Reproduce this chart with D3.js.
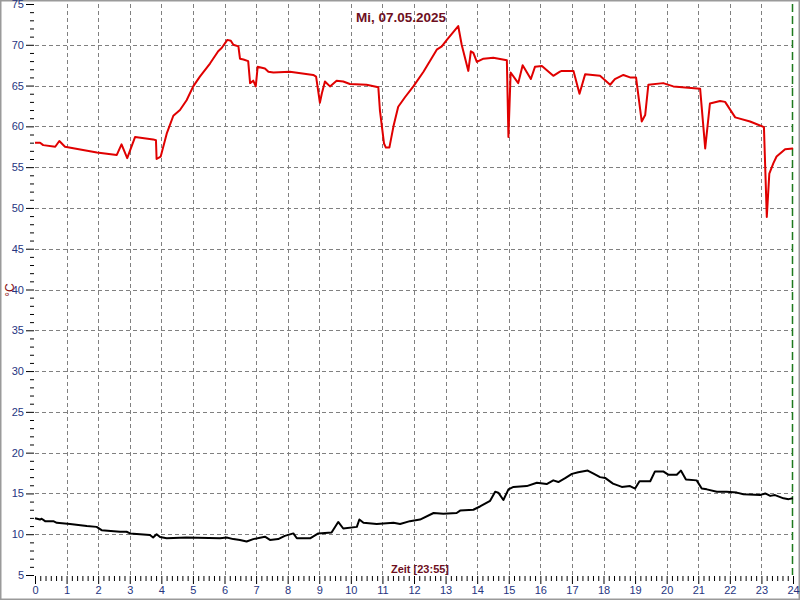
<!DOCTYPE html>
<html>
<head>
<meta charset="utf-8">
<script src="https://cdn.jsdelivr.net/npm/d3@7"></script>
<style>
  body { margin: 0; background: #fff; }
  svg { display: block; font-family: Arial, "Liberation Sans", sans-serif; }
  .ticks text { fill: #26357f; font-size: 11px; }
  .ticks line { stroke: #000; }
</style>
</head>
<body>
<div id="main"></div>
<script>
// **** data ****
var hoursRed = [0, 0.16, 0.26, 0.64, 0.77, 0.95, 1.96, 2.59, 2.74, 2.92, 3.17, 3.74, 3.83, 3.85, 3.98, 4.17, 4.38, 4.59, 4.80, 5.01, 5.22, 5.54, 5.80, 5.91, 6.09, 6.20, 6.28, 6.44, 6.49, 6.60, 6.75, 6.81, 6.91, 6.99, 7.05, 7.28, 7.39, 7.55, 8.07, 8.81, 8.90, 9.02, 9.08, 9.18, 9.34, 9.55, 9.76, 9.97, 10.50, 10.87, 10.92, 11.05, 11.11, 11.22, 11.35, 11.50, 11.72, 11.98, 12.30, 12.72, 12.88, 13.04, 13.40, 13.51, 13.72, 13.80, 13.88, 13.99, 14.20, 14.51, 14.94, 14.99, 15.06, 15.30, 15.44, 15.70, 15.83, 16.05, 16.41, 16.62, 16.68, 17.05, 17.24, 17.42, 17.89, 18.21, 18.36, 18.63, 18.84, 19.03, 19.21, 19.32, 19.42, 19.89, 20.21, 21.06, 21.22, 21.37, 21.69, 21.85, 22.17, 22.64, 23.08, 23.17, 23.25, 23.38, 23.48, 23.75, 24.0];
var tempRed = [58.0, 58.0, 57.7, 57.5, 58.2, 57.5, 56.8, 56.5, 57.8, 56.1, 58.7, 58.4, 58.3, 56.0, 56.3, 59.1, 61.3, 62.0, 63.2, 64.9, 66.1, 67.7, 69.2, 69.6, 70.6, 70.5, 70.0, 69.8, 68.3, 68.2, 68.0, 65.3, 65.6, 64.9, 67.3, 67.1, 66.7, 66.6, 66.7, 66.3, 66.1, 62.9, 64.0, 65.5, 64.9, 65.6, 65.5, 65.2, 65.1, 64.8, 62.0, 57.9, 57.4, 57.4, 60.0, 62.4, 63.6, 64.9, 66.7, 69.4, 69.8, 70.6, 72.3, 70.0, 66.8, 69.2, 69.0, 67.9, 68.3, 68.4, 68.1, 58.7, 66.6, 65.3, 67.5, 65.8, 67.3, 67.4, 66.2, 66.7, 66.8, 66.8, 64.0, 66.4, 66.2, 65.1, 65.8, 66.3, 66.0, 66.0, 60.6, 61.4, 65.1, 65.3, 64.9, 64.6, 57.3, 62.8, 63.1, 63.0, 61.1, 60.6, 59.9, 48.9, 54.2, 55.5, 56.3, 57.2, 57.3];

var hoursBlack = [0, 0.16, 0.21, 0.32, 0.58, 0.69, 1.11, 1.64, 1.95, 2.11, 2.69, 2.90, 3.01, 3.64, 3.74, 3.85, 3.96, 4.17, 4.80, 5.86, 6.07, 6.28, 6.49, 6.70, 6.91, 7.28, 7.44, 7.70, 7.91, 8.18, 8.29, 8.71, 8.97, 9.39, 9.60, 9.76, 10.19, 10.27, 10.40, 10.82, 11.35, 11.56, 11.87, 12.19, 12.62, 12.93, 13.35, 13.46, 13.88, 14.09, 14.41, 14.57, 14.67, 14.83, 14.99, 15.15, 15.57, 15.89, 16.20, 16.41, 16.57, 16.80, 17.00, 17.20, 17.50, 17.70, 17.89, 18.05, 18.30, 18.58, 18.84, 19.00, 19.14, 19.48, 19.63, 19.89, 20.05, 20.32, 20.45, 20.61, 20.95, 21.11, 21.27, 21.59, 21.90, 22.22, 22.43, 22.96, 23.12, 23.28, 23.43, 23.70, 23.86, 24.0];
var tempBlack = [11.95, 11.8, 11.9, 11.6, 11.6, 11.4, 11.25, 11.0, 10.9, 10.5, 10.3, 10.3, 10.1, 9.9, 9.6, 10.0, 9.65, 9.5, 9.6, 9.5, 9.6, 9.4, 9.3, 9.1, 9.4, 9.7, 9.3, 9.4, 9.8, 10.1, 9.5, 9.5, 10.1, 10.2, 11.5, 10.7, 10.9, 11.8, 11.4, 11.25, 11.4, 11.25, 11.6, 11.8, 12.6, 12.5, 12.6, 12.9, 13.0, 13.4, 14.1, 15.2, 15.1, 14.2, 15.5, 15.8, 15.9, 16.3, 16.15, 16.6, 16.4, 16.9, 17.4, 17.6, 17.8, 17.4, 17.0, 16.9, 16.2, 15.8, 15.9, 15.6, 16.5, 16.5, 17.7, 17.7, 17.3, 17.3, 17.8, 16.7, 16.6, 15.6, 15.5, 15.2, 15.2, 15.1, 14.9, 14.8, 15.0, 14.7, 14.8, 14.4, 14.3, 14.4];

var hourTicks = d3.range(0, 25);
var tempTicks = d3.range(5, 80, 5);
var title = "Mi, 07.05.2025";
var xLabel = "Zeit [23:55]";
var yLabel = "°C";

// **** svg ****
var W = 800, H = 600;
var svg = d3.select("#main")
  .append("svg")
    .attr("width", W)
    .attr("height", H);

svg.append("rect")
    .attr("x", 0.5).attr("y", 0.5)
    .attr("width", W - 1).attr("height", H - 1)
    .style("fill", "#fff")
    .style("stroke", "#9a9a9a")
    .style("stroke-width", 2);

var x = d3.scaleLinear().domain([0, 24]).range([35, 793]);
var y = d3.scaleLinear().domain([5, 75]).range([575, 4]);

// **** grid ****
var grid = svg.append("g").attr("class", "grid");
grid.selectAll("line.v")
    .data(hourTicks.filter(function(d){ return d > 0 && d < 24; }))
    .enter().append("line")
    .attr("x1", function(d){ return Math.round(x(d)) + 0.5; })
    .attr("x2", function(d){ return Math.round(x(d)) + 0.5; })
    .attr("y1", y(75)).attr("y2", y(5))
    .style("stroke", "#808080")
    .style("stroke-dasharray", "4,3");

grid.selectAll("line.h")
    .data(tempTicks.filter(function(d){ return d > 5 && d < 75; }))
    .enter().append("line")
    .attr("x1", x(0)).attr("x2", x(24))
    .attr("y1", function(d){ return Math.round(y(d)) + 0.5; })
    .attr("y2", function(d){ return Math.round(y(d)) + 0.5; })
    .style("stroke", "#808080")
    .style("stroke-dasharray", "4,3");

// end of day marker
svg.append("line")
    .attr("x1", x(24) - 0.5).attr("x2", x(24) - 0.5)
    .attr("y1", y(75)).attr("y2", y(5))
    .style("stroke", "#1e7a1e")
    .style("stroke-width", 1.5)
    .style("stroke-dasharray", "8,4");

// **** axes ****
svg.append("g").attr("class", "ticks")
    .attr("transform", "translate(" + (x(0) - 1) + ",0)")
    .call(d3.axisLeft(y).tickValues(tempTicks).tickSize(8).tickPadding(2));
svg.append("g").attr("class", "ticks")
    .attr("transform", "translate(" + (x(0) - 1) + ",0)")
    .call(d3.axisLeft(y).tickValues(d3.range(5, 76, 1).filter(function(d){ return d % 5; }))
      .tickSize(4).tickFormat(""));

svg.append("g").attr("class", "ticks")
    .attr("transform", "translate(0," + (y(5) + 1) + ")")
    .call(d3.axisBottom(x).tickValues(hourTicks).tickSize(8).tickPadding(2));
svg.append("g").attr("class", "ticks")
    .attr("transform", "translate(0," + (y(5) + 1) + ")")
    .call(d3.axisBottom(x).tickValues(d3.range(0, 144).map(function(i){ return i / 6; }).filter(function(d, i){ return i % 6; }))
      .tickSize(5).tickFormat(""));

svg.selectAll(".ticks .domain").remove();

// **** lines ****
var line = d3.line()
    .x(function(d){ return x(d[0]); })
    .y(function(d){ return y(d[1]); });

svg.append("path")
    .datum(d3.zip(hoursRed, tempRed))
    .attr("d", line)
    .style("fill", "none")
    .style("stroke", "#e00000")
    .style("stroke-width", 2)
    .style("stroke-linejoin", "round");

svg.append("path")
    .datum(d3.zip(hoursBlack, tempBlack))
    .attr("d", line)
    .style("fill", "none")
    .style("stroke", "#000")
    .style("stroke-width", 2)
    .style("stroke-linejoin", "round");

// **** labels ****
svg.append("text")
    .attr("x", 401).attr("y", 22)
    .attr("text-anchor", "middle")
    .text(title)
    .style("font-size", "13.5px")
    .style("font-weight", "bold")
    .style("fill", "#6e0f1e");

svg.append("text")
    .attr("x", 420).attr("y", 573)
    .attr("text-anchor", "middle")
    .text(xLabel)
    .style("font-size", "11px")
    .style("font-weight", "bold")
    .style("fill", "#6e0f1e");

svg.append("text")
    .attr("transform", "translate(14,290) rotate(-90)")
    .attr("text-anchor", "middle")
    .text(yLabel)
    .style("font-size", "12px")
    .style("fill", "#8a1010");
</script>
</body>
</html>
